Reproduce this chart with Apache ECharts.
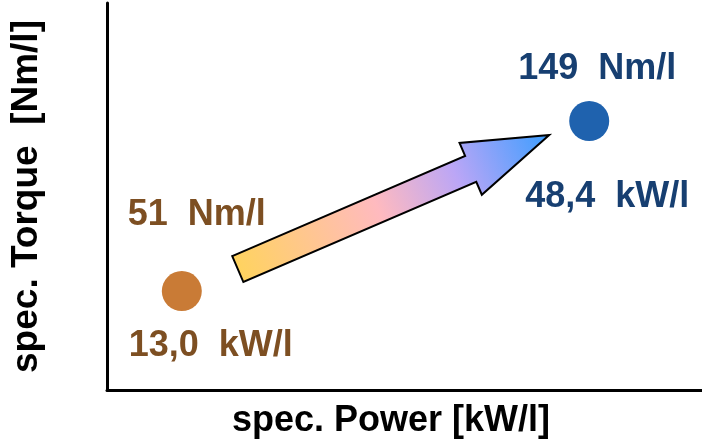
<!DOCTYPE html>
<html>
<head>
<meta charset="utf-8">
<script src="https://cdn.jsdelivr.net/npm/echarts@6/dist/echarts.min.js"></script>
<style>
html,body{margin:0;padding:0;background:#fff;}
#c{width:702px;height:444px;}
</style>
</head>
<body>
<div id="c"></div>
<script>
// ---- data ----
const powers = [13.0, 48.4];          // kW/l
const torques = [51, 149];            // Nm/l
const xTitle = 'spec. Power [kW/l]';
const yTitle = 'spec. Torque  [Nm/l]';

// ---- styles ----
const pointColors = ['#C97B36', '#1F62AE'];
const labelColors = ['#7D4F22', '#173F71'];
const topOffsets = [[15, -76], [8, -52]];
const bottomOffsets = [[29, 55], [18, 76]];
const FONT = '"Liberation Sans", Arial, Helvetica, sans-serif';

function fmtPower(v) { return v.toFixed(1).replace('.', ','); }

const chart = echarts.init(document.getElementById('c'), null, {renderer: 'canvas'});

const labelBase = {
  show: true, position: 'inside', fontFamily: FONT, fontWeight: 'bold',
  fontSize: 36, align: 'center', verticalAlign: 'middle', opacity: 1
};

const option = {
  animation: false,
  grid: {left: 106, right: 0, top: 3, bottom: 52.5},
  xAxis: {
    type: 'value', min: 6.5, max: 58.2,
    axisLine: {show: true, onZero: false, lineStyle: {color: '#000', width: 3}},
    axisTick: {show: false}, axisLabel: {show: false}, splitLine: {show: false},
    name: xTitle, nameLocation: 'middle', nameGap: 13,
    nameTextStyle: {fontFamily: FONT, fontWeight: 'bold', fontSize: 36, color: '#000', padding: [0, 27, 0, 0]}
  },
  yAxis: {
    type: 'value', min: -6, max: 217,
    axisLine: {show: true, onZero: false, lineStyle: {color: '#000', width: 3}},
    axisTick: {show: false}, axisLabel: {show: false}, splitLine: {show: false},
    name: yTitle, nameLocation: 'middle', nameGap: 62,
    nameTextStyle: {fontFamily: FONT, fontWeight: 'bold', fontSize: 37, color: '#000'}
  },
  series: [
    {
      type: 'scatter', symbol: 'circle', symbolSize: 40, z: 3,
      itemStyle: {opacity: 1},
      data: powers.map((p, i) => ({value: [p, torques[i]], itemStyle: {color: pointColors[i], opacity: 1}})),
      label: {show: false}
    },
    {
      type: 'scatter', symbolSize: 1, z: 4, itemStyle: {color: 'rgba(0,0,0,0)', opacity: 1},
      data: powers.map((p, i) => ({
        value: [p, torques[i]],
        label: Object.assign({}, labelBase, {color: labelColors[i], offset: topOffsets[i],
          formatter: torques[i] + '  Nm/l'})
      }))
    },
    {
      type: 'scatter', symbolSize: 1, z: 4, itemStyle: {color: 'rgba(0,0,0,0)', opacity: 1},
      data: powers.map((p, i) => ({
        value: [p, torques[i]],
        label: Object.assign({}, labelBase, {color: labelColors[i], offset: bottomOffsets[i],
          formatter: fmtPower(p) + '  kW/l'})
      }))
    }
  ]
};
chart.setOption(option);

// ---- decorative arrow between the two points ----
const p1 = chart.convertToPixel({gridIndex: 0}, [powers[0], torques[0]]);
const p2 = chart.convertToPixel({gridIndex: 0}, [powers[1], torques[1]]);
const tail = [p1[0] + 56, p1[1] - 22];
const tip = [p2[0] - 40, p2[1] + 14];
const dx = tip[0] - tail[0], dy = tip[1] - tail[1];
const L = Math.hypot(dx, dy);
const u = [dx / L, dy / L];
const n = [-u[1], u[0]];
const sw = 14.1, hw = 28.2, hl = 85.5;
const base = [tip[0] - u[0] * hl, tip[1] - u[1] * hl];
function pt(c, k) { return [c[0] + n[0] * k, c[1] + n[1] * k]; }
const poly = [pt(tail, -sw), pt(base, -sw), pt(base, -hw), tip, pt(base, hw), pt(base, sw), pt(tail, sw)];

chart.setOption({
  graphic: [{
    type: 'polygon', z: 2,
    shape: {points: poly},
    style: {
      fill: new echarts.graphic.LinearGradient(tail[0], tail[1], tip[0], tip[1], [
        {offset: 0, color: '#FFD35F'},
        {offset: 0.45, color: '#FFBABF'},
        {offset: 0.7, color: '#BBA6F6'},
        {offset: 1, color: '#3C9EFF'}
      ], true),
      stroke: '#000', lineWidth: 2
    }
  }]
});
</script>
</body>
</html>
